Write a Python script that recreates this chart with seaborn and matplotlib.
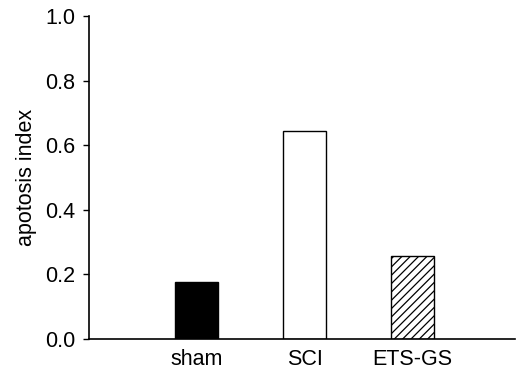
import matplotlib
matplotlib.use("Agg")
import matplotlib.pyplot as plt
import seaborn as sns
import pandas as pd

groups = ["sham", "SCI", "ETS-GS"]
apoptosis = [0.176, 0.644, 0.258]
bar_colors = ["black", "white", "white"]

sns.set_style("ticks")
plt.rcParams["font.family"] = ["Liberation Sans", "DejaVu Sans"]
plt.rcParams["hatch.linewidth"] = 0.9
for key in ["text.color", "axes.labelcolor", "xtick.color", "ytick.color"]:
    plt.rcParams[key] = "black"

df = pd.DataFrame({"group": groups, "value": apoptosis})

fig = plt.figure(figsize=(5.16, 3.75), dpi=100)
ax = fig.add_axes([0.1725, 0.096, 0.826, 0.861])

sns.barplot(data=df, x="group", y="value", hue="group", palette=bar_colors,
            legend=False, width=0.4, edgecolor="black", linewidth=1, ax=ax)
ax.patches[2].set_hatch("////")

ax.set_xlim(-1.0, 2.95)
ax.set_ylim(0, 1.0)
ax.set_yticks([0.0, 0.2, 0.4, 0.6, 0.8, 1.0])
ax.set_yticklabels(["0.0", "0.2", "0.4", "0.6", "0.8", "1.0"])
ax.set_xlabel("")
ax.set_ylabel("apotosis index", fontsize=15.5, labelpad=6)
ax.tick_params(axis="y", labelsize=15.5, length=4, width=1, pad=6)
ax.tick_params(axis="x", labelsize=15.5, length=0, pad=7)
for sp in ["left", "bottom"]:
    ax.spines[sp].set_linewidth(1.2)
    ax.spines[sp].set_color("black")
sns.despine(ax=ax)

fig.savefig("out.png", dpi=100)
